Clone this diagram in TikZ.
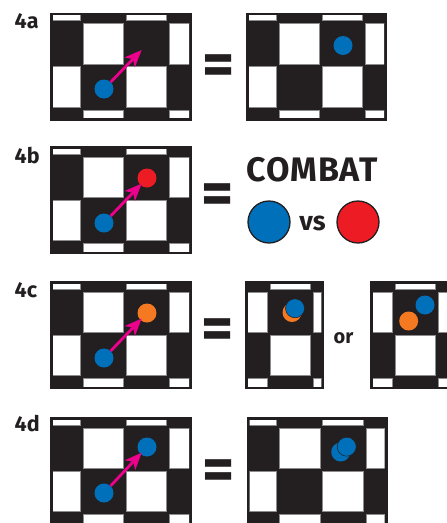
\documentclass[tikz,border=0pt]{standalone}
\usepackage{fontspec}
\setsansfont{Fira Sans}
\usetikzlibrary{arrows.meta}

\definecolor{ink}{HTML}{231F20}
\definecolor{piece}{HTML}{0070BA}
\definecolor{enemy}{HTML}{ED1C24}
\definecolor{ally}{HTML}{F47920}
\definecolor{move}{HTML}{EC008C}

% board: top left corner, width, height, where the column grid starts
\newcommand\chessboard[5]{%
  \fill[ink] (#1,#2) rectangle ++(#3,#4);
  \begin{scope}
    \clip (#1+3,#2+3) rectangle (#1+#3-3,#2+#4-3);
    \foreach \k in {-1,...,3}
      \foreach \m in {-1,...,2} {
        \pgfmathtruncatemacro\parity{mod(\k+\m+4,2)}
        \ifnum\parity=0
          \filldraw[fill=white,draw=black!45,line width=0.4pt]
            (#1+#5+43.3*\k,#2+10.7+43.3*\m) rectangle ++(40.6,40.6);
        \fi
      }
  \end{scope}}

\begin{document}
\begin{tikzpicture}[x=1pt,y=-1pt,
    spot/.style={circle,inner sep=0pt,minimum size=19pt},
    blue spot/.style={spot,fill=piece},
    front spot/.style={spot,fill=piece,draw=ink,line width=0.5pt},
    red spot/.style={spot,fill=enemy},
    orange spot/.style={spot,fill=ally},
    big spot/.style={circle,inner sep=0pt,minimum size=42pt,draw=ink,line width=1.3pt},
    label/.style={font=\sffamily\bfseries\fontsize{21.5}{21.5}\selectfont,text=ink,inner sep=0pt,anchor=base west},
    equals/.style={font=\sffamily\bfseries\fontsize{62}{62}\selectfont,text=ink,inner sep=0pt},
    word/.style={font=\sffamily\bfseries,text=ink,inner sep=0pt,anchor=base},
    moves/.style={move,line width=2.8pt,-{Stealth[length=17pt,width=14pt,inset=4.5pt]},shorten >=-2pt}]

  \useasboundingbox (0,0) rectangle (447,523);
  \clip (0,0) rectangle (447,523);

  % 4a
  \node[label] (la) at (14.5,28.5) {4a};
  \chessboard{50}{12.5}{142}{108}{32.7}
  \chessboard{246}{12.5}{141}{108}{32.7}
  \node[blue spot] (a1) at (104,89) {};
  \node[spot] (a2) at (147,44.5) {};
  \draw[moves] (a1) -- (a2);
  \node[equals] (ea) at (218.5,70.5) {=};
  \node[blue spot] (a3) at (343,45.5) {};

  % 4b
  \node[label] (lb) at (14.5,163) {4b};
  \chessboard{50}{146}{142}{108}{32.7}
  \node[blue spot] (b1) at (104,223) {};
  \node[red spot] (b2) at (147,178) {};
  \draw[moves] (b1) -- (b2);
  \node[equals] (eb) at (218,199.5) {=};
  \node[word,font=\sffamily\bfseries\fontsize{34}{34}\selectfont\addfontfeatures{LetterSpace=3},anchor=base west] (combat) at (246,181) {COMBAT};
  \node[big spot,fill=piece] (us) at (269,222) {};
  \node[word,font=\sffamily\bfseries\fontsize{26.5}{26.5}\selectfont] (vs) at (312.5,230.5) {vs};
  \node[big spot,fill=enemy] (them) at (358,222) {};

  % 4c
  \node[label] (lc) at (14.5,297.5) {4c};
  \chessboard{50}{281}{142}{108}{32.7}
  \node[blue spot] (c1) at (104,358) {};
  \node[orange spot] (c2) at (147,313) {};
  \draw[moves] (c1) -- (c2);
  \node[equals] (ec) at (218,334.5) {=};
  \chessboard{245}{281}{79.3}{108}{-18.3}
  \node[orange spot] (c3) at (292,312.5) {};
  \node[front spot] (c4) at (295,308.3) {};
  \node[word,font=\sffamily\bfseries\fontsize{20}{20}\selectfont] (or) at (343.5,343.5) {or};
  \chessboard{370}{281}{142}{108}{-18.3}
  \node[orange spot] (c5) at (408.7,321) {};
  \node[blue spot] (c6) at (425,305) {};

  % 4d
  \node[label] (ld) at (14.5,431.5) {4d};
  \chessboard{50}{417}{142}{108}{32.7}
  \node[blue spot] (d1) at (104,493) {};
  \node[blue spot] (d2) at (147,447) {};
  \draw[moves] (d1) -- (d2);
  \node[equals] (ed) at (218.5,475) {=};
  \chessboard{246.5}{417}{141}{108}{32.7}
  \node[blue spot] (d3) at (340.7,452) {};
  \node[front spot] (d4) at (346.7,446.7) {};

\end{tikzpicture}
\end{document}
